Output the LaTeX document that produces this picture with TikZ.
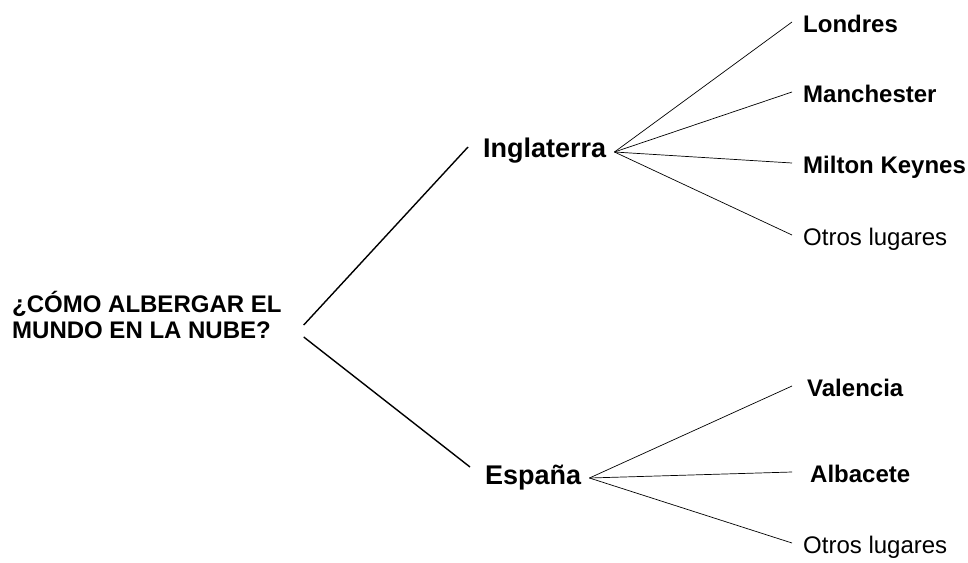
\documentclass[tikz,border=0pt]{standalone}
\usepackage{fontspec}
\setmainfont{Liberation Sans}
\usetikzlibrary{positioning}

\begin{document}
\begin{tikzpicture}[x=1pt,y=-1pt,
  root/.style={font=\fontsize{24}{26}\selectfont\bfseries, align=left, inner sep=0pt, anchor=west},
  country/.style={font=\fontsize{27}{30}\selectfont\bfseries, inner xsep=8pt, inner ysep=0pt, text height=20pt, text depth=8pt, anchor=base west},
  city/.style={font=\fontsize{24}{26}\selectfont\bfseries, inner xsep=11pt, inner ysep=0pt, text height=24pt, text depth=4pt, anchor=west},
  other/.style={city, font=\fontsize{24}{26}\selectfont},
  trunk/.style={line width=1.4pt},
  twig/.style={line width=0.7pt}]

\useasboundingbox (0,0) rectangle (968,562);

% Question
\node[root] (root) at (12,315) {¿CÓMO ALBERGAR EL\\MUNDO EN LA NUBE?};

% Countries
\node[country] (ing) at (475,157) {Inglaterra};
\node[country] (esp) at (477,484) {España};

% Places in England
\node[city] (lon) at (792,22) {Londres};
\node[city] (man) at (792,92) {Manchester};
\node[city] (mil) at (792,163) {Milton Keynes};
\node[other] (otr1) at (792,235) {Otros lugares};

% Places in Spain
\node[city, inner xsep=15pt] (val) at (792,386) {Valencia};
\node[city, inner xsep=18pt] (alb) at (792,472) {Albacete};
\node[other] (otr2) at (792,543) {Otros lugares};

% Main branches
\draw[trunk] ([xshift=22pt,yshift=-10pt]root.east) -- ([xshift=-7pt,yshift=4pt]ing.west);
\draw[trunk] ([xshift=22pt,yshift=-22pt]root.east) -- ([xshift=-7pt,yshift=11pt]esp.west);

% Small branches
\foreach \c in {lon,man,mil,otr1}
  \draw[twig] ([yshift=-1pt]ing.east) -- (\c.west);
\foreach \c in {val,alb,otr2}
  \draw[twig] (esp.east) -- (\c.west);

\end{tikzpicture}
\end{document}
